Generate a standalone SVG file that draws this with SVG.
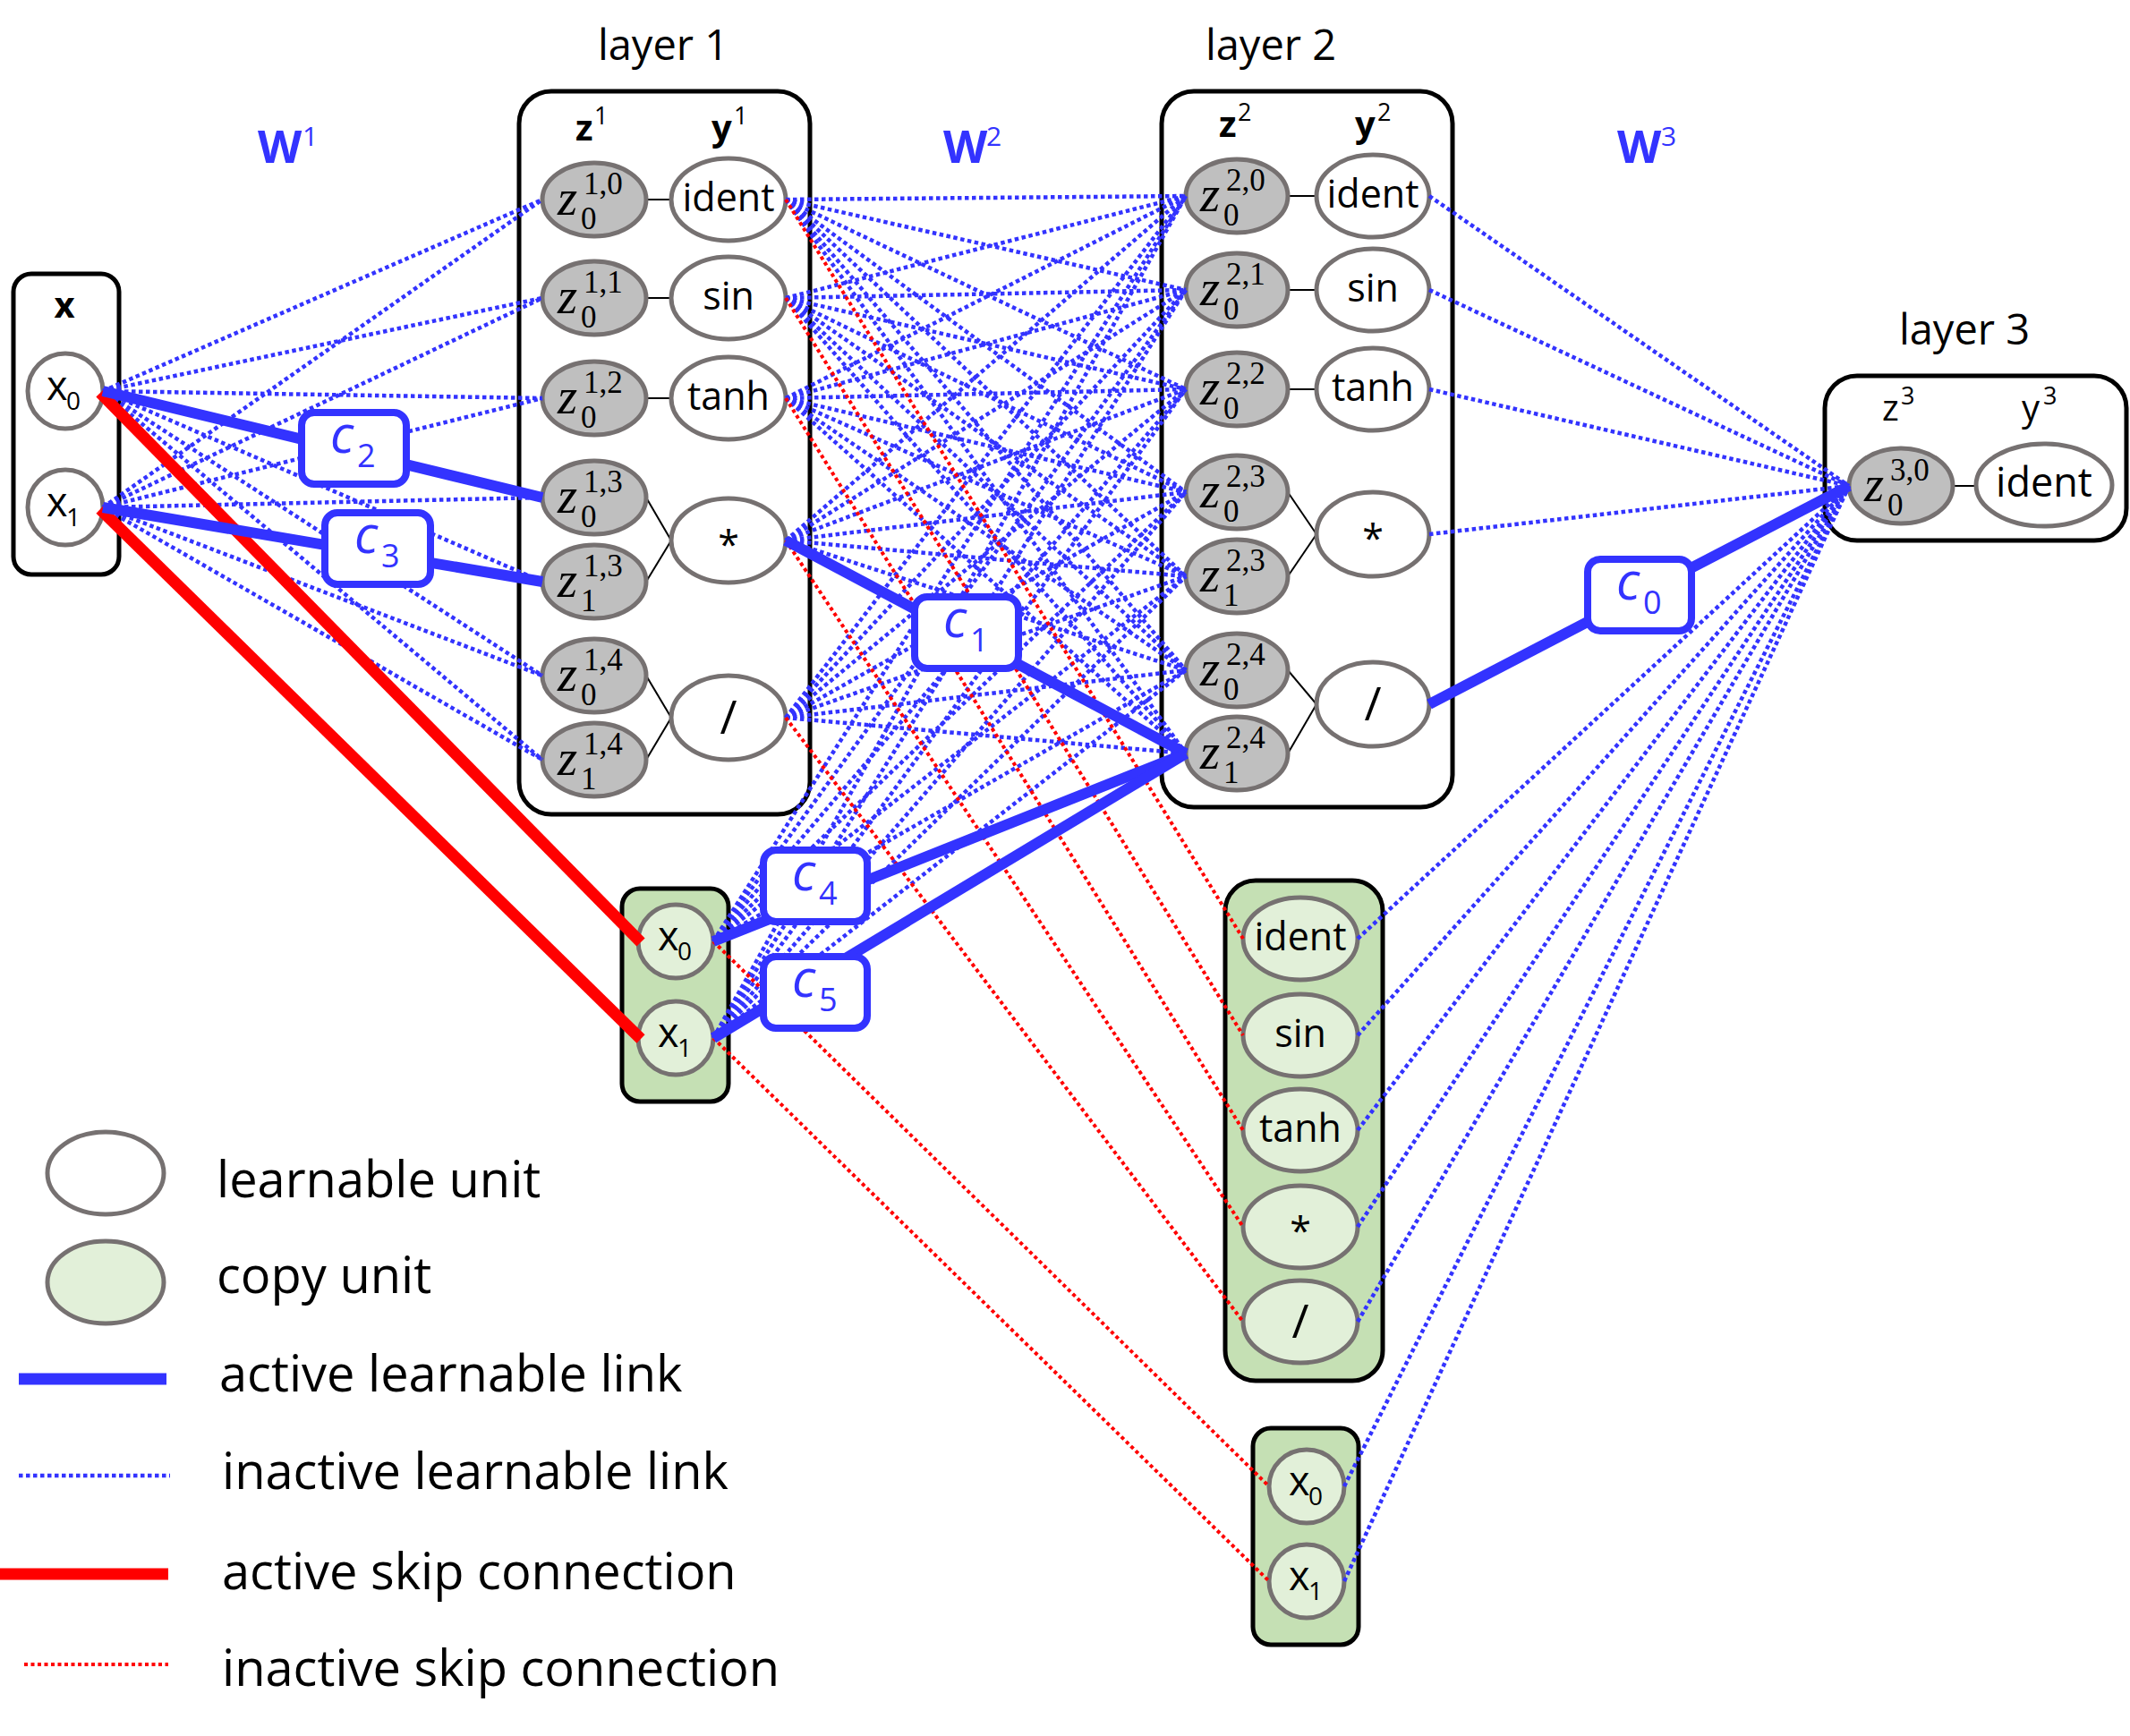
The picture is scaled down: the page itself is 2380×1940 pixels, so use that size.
<svg xmlns="http://www.w3.org/2000/svg" width="2380" height="1940" viewBox="0 0 2380 1940">
<style>
.bg{fill:#fff}
.box{fill:#fff;stroke:#000;stroke-width:5}
.gbox{fill:#c5e0b4;stroke:#000;stroke-width:5}
.ez{fill:#bfbfbf;stroke:#767171;stroke-width:5}
.ey{fill:#fff;stroke:#767171;stroke-width:5}
.ec{fill:#e2f0d9;stroke:#767171;stroke-width:5}
text{font-family:"Open Sans","Liberation Sans",sans-serif;fill:#000}
.fn{font-size:43px;text-anchor:middle}
.sl{font-size:52px;text-anchor:middle}
.ttl{font-size:47px;text-anchor:middle}
.zi{font-family:"Liberation Serif",serif;font-style:italic;font-size:57px}
.zs{font-family:"Liberation Serif",serif;font-size:35px}
.xl{font-size:45px}
.xs{font-size:28px}
.hb{font-size:40px;font-weight:bold}
.hr{font-size:40px}
.hs{font-size:27px}
.wl{font-size:51px;font-weight:bold;fill:#3333ff}
.ws{font-size:30px;fill:#3333ff}
.ci{font-size:58px;font-style:italic;fill:#3333ff}
.cs{font-size:36px;fill:#3333ff}
.lg{font-size:56px}
.il{stroke:#3333ff;stroke-width:4.5;stroke-dasharray:4.5 3.5;fill:none}
.is{stroke:#ff0000;stroke-width:4;stroke-dasharray:4 3.5;fill:none}
.al{stroke:#3333ff;stroke-width:12;fill:none}
.as{stroke:#ff0000;stroke-width:13;fill:none}
.wb{fill:#fff;stroke:#3333ff;stroke-width:8}
.thin{stroke:#000;stroke-width:2}
</style>
<rect class="bg" x="0" y="0" width="2380" height="1940"/>

<!-- containers -->
<g id="input-box">
<rect class="box" x="15" y="306" width="118" height="336" rx="20"/>
<text x="72" y="355" class="hb" text-anchor="middle">x</text>
</g>
<g id="layer1">
<text x="741" y="67" class="ttl">layer 1</text>
<rect class="box" x="580" y="102" width="325" height="808" rx="36"/>
<text x="643" y="157" class="hb">z</text><text x="664" y="139" class="hs">1</text>
<text x="795" y="157" class="hb">y</text><text x="820" y="139" class="hs">1</text>
<line class="thin" x1="722" y1="223" x2="750" y2="223"/>
<line class="thin" x1="722" y1="333" x2="750" y2="333"/>
<line class="thin" x1="722" y1="445" x2="750" y2="445"/>
<line class="thin" x1="722" y1="556" x2="750" y2="604"/>
<line class="thin" x1="722" y1="650" x2="750" y2="604"/>
<line class="thin" x1="722" y1="755" x2="750" y2="802"/>
<line class="thin" x1="722" y1="849" x2="750" y2="802"/>
</g>
<g id="layer2">
<text x="1420" y="67" class="ttl">layer 2</text>
<rect class="box" x="1298" y="102" width="325" height="800" rx="36"/>
<text x="1362" y="153" class="hb">z</text><text x="1383" y="135" class="hs">2</text>
<text x="1514" y="153" class="hb">y</text><text x="1539" y="135" class="hs">2</text>
<line class="thin" x1="1439" y1="219" x2="1471" y2="219"/>
<line class="thin" x1="1439" y1="324" x2="1471" y2="324"/>
<line class="thin" x1="1439" y1="435" x2="1471" y2="435"/>
<line class="thin" x1="1439" y1="550" x2="1471" y2="597"/>
<line class="thin" x1="1439" y1="644" x2="1471" y2="597"/>
<line class="thin" x1="1439" y1="749" x2="1471" y2="787"/>
<line class="thin" x1="1439" y1="842" x2="1471" y2="787"/>
</g>
<g id="layer3">
<text x="2195" y="385" class="ttl">layer 3</text>
<rect class="box" x="2039" y="420" width="337" height="184" rx="36"/>
<text x="2103" y="470" class="hr">z</text><text x="2124" y="452" class="hs">3</text>
<text x="2259" y="470" class="hr">y</text><text x="2283" y="452" class="hs">3</text>
<line class="thin" x1="2182" y1="543" x2="2208" y2="543"/>
</g>
<g id="copy-inputs-1"><rect class="gbox" x="695" y="993" width="119" height="238" rx="20"/></g>
<g id="copy-layer1"><rect class="gbox" x="1369" y="984" width="176" height="559" rx="34"/></g>
<g id="copy-inputs-2"><rect class="gbox" x="1400" y="1596" width="118" height="242" rx="20"/></g>

<!-- weight labels -->
<g id="W-labels">
<text x="288" y="182" class="wl">W</text><text x="338" y="163" class="ws">1</text>
<text x="1054" y="182" class="wl">W</text><text x="1102" y="163" class="ws">2</text>
<text x="1807" y="182" class="wl">W</text><text x="1856" y="163" class="ws">3</text>
</g>

<!-- nodes: input -->
<g id="x0"><ellipse class="ey" cx="73" cy="437" rx="42" ry="42"/><text x="52" y="447" class="xl">x</text><text x="74" y="458" class="xs">0</text></g>
<g id="x1"><ellipse class="ey" cx="73" cy="567" rx="42" ry="42"/><text x="52" y="577" class="xl">x</text><text x="74" y="588" class="xs">1</text></g>

<!-- layer 1 nodes -->
<g id="z1_0"><ellipse class="ez" cx="664" cy="223" rx="58" ry="41"/><text x="623" y="240" class="zi">z</text><text x="652" y="217" class="zs">1,0</text><text x="649" y="256" class="zs">0</text></g>
<g id="z1_1"><ellipse class="ez" cx="664" cy="333" rx="58" ry="41"/><text x="623" y="350" class="zi">z</text><text x="652" y="327" class="zs">1,1</text><text x="649" y="366" class="zs">0</text></g>
<g id="z1_2"><ellipse class="ez" cx="664" cy="445" rx="58" ry="41"/><text x="623" y="462" class="zi">z</text><text x="652" y="439" class="zs">1,2</text><text x="649" y="478" class="zs">0</text></g>
<g id="z1_3a"><ellipse class="ez" cx="664" cy="556" rx="58" ry="41"/><text x="623" y="573" class="zi">z</text><text x="652" y="550" class="zs">1,3</text><text x="649" y="589" class="zs">0</text></g>
<g id="z1_3b"><ellipse class="ez" cx="664" cy="650" rx="58" ry="41"/><text x="623" y="667" class="zi">z</text><text x="652" y="644" class="zs">1,3</text><text x="649" y="683" class="zs">1</text></g>
<g id="z1_4a"><ellipse class="ez" cx="664" cy="755" rx="58" ry="41"/><text x="623" y="772" class="zi">z</text><text x="652" y="749" class="zs">1,4</text><text x="649" y="788" class="zs">0</text></g>
<g id="z1_4b"><ellipse class="ez" cx="664" cy="849" rx="58" ry="41"/><text x="623" y="866" class="zi">z</text><text x="652" y="843" class="zs">1,4</text><text x="649" y="882" class="zs">1</text></g>
<g id="y1_ident"><ellipse class="ey" cx="814" cy="223" rx="64" ry="46"/><text x="814" y="236" class="fn">ident</text></g>
<g id="y1_sin"><ellipse class="ey" cx="814" cy="333" rx="64" ry="46"/><text x="814" y="346" class="fn">sin</text></g>
<g id="y1_tanh"><ellipse class="ey" cx="814" cy="445" rx="64" ry="46"/><text x="814" y="458" class="fn">tanh</text></g>
<g id="y1_mul"><ellipse class="ey" cx="814" cy="604" rx="64" ry="47"/><text x="814" y="624" class="fn">*</text></g>
<g id="y1_div"><ellipse class="ey" cx="814" cy="802" rx="64" ry="47"/><text x="814" y="820" class="sl">/</text></g>

<!-- layer 2 nodes -->
<g id="z2_0"><ellipse class="ez" cx="1382" cy="219" rx="57" ry="41"/><text x="1341" y="236" class="zi">z</text><text x="1370" y="213" class="zs">2,0</text><text x="1367" y="252" class="zs">0</text></g>
<g id="z2_1"><ellipse class="ez" cx="1382" cy="324" rx="57" ry="41"/><text x="1341" y="341" class="zi">z</text><text x="1370" y="318" class="zs">2,1</text><text x="1367" y="357" class="zs">0</text></g>
<g id="z2_2"><ellipse class="ez" cx="1382" cy="435" rx="57" ry="41"/><text x="1341" y="452" class="zi">z</text><text x="1370" y="429" class="zs">2,2</text><text x="1367" y="468" class="zs">0</text></g>
<g id="z2_3a"><ellipse class="ez" cx="1382" cy="550" rx="57" ry="41"/><text x="1341" y="567" class="zi">z</text><text x="1370" y="544" class="zs">2,3</text><text x="1367" y="583" class="zs">0</text></g>
<g id="z2_3b"><ellipse class="ez" cx="1382" cy="644" rx="57" ry="41"/><text x="1341" y="661" class="zi">z</text><text x="1370" y="638" class="zs">2,3</text><text x="1367" y="677" class="zs">1</text></g>
<g id="z2_4a"><ellipse class="ez" cx="1382" cy="749" rx="57" ry="41"/><text x="1341" y="766" class="zi">z</text><text x="1370" y="743" class="zs">2,4</text><text x="1367" y="782" class="zs">0</text></g>
<g id="z2_4b"><ellipse class="ez" cx="1382" cy="842" rx="57" ry="41"/><text x="1341" y="859" class="zi">z</text><text x="1370" y="836" class="zs">2,4</text><text x="1367" y="875" class="zs">1</text></g>
<g id="y2_ident"><ellipse class="ey" cx="1534" cy="219" rx="63" ry="46"/><text x="1534" y="232" class="fn">ident</text></g>
<g id="y2_sin"><ellipse class="ey" cx="1534" cy="324" rx="63" ry="46"/><text x="1534" y="337" class="fn">sin</text></g>
<g id="y2_tanh"><ellipse class="ey" cx="1534" cy="435" rx="63" ry="46"/><text x="1534" y="448" class="fn">tanh</text></g>
<g id="y2_mul"><ellipse class="ey" cx="1534" cy="597" rx="63" ry="47"/><text x="1534" y="617" class="fn">*</text></g>
<g id="y2_div"><ellipse class="ey" cx="1534" cy="787" rx="63" ry="47"/><text x="1534" y="805" class="sl">/</text></g>

<!-- layer 3 nodes -->
<g id="z3_0"><ellipse class="ez" cx="2124" cy="543" rx="58" ry="42"/><text x="2083" y="560" class="zi">z</text><text x="2112" y="537" class="zs">3,0</text><text x="2109" y="576" class="zs">0</text></g>
<g id="y3_ident"><ellipse class="ey" cx="2284" cy="542" rx="76" ry="46"/><text x="2284" y="555" class="fn" style="font-size:45px">ident</text></g>

<!-- copy nodes -->
<g id="c1_x0"><ellipse class="ec" cx="755" cy="1052" rx="42" ry="41"/><text x="735" y="1062" class="xl">x</text><text x="757" y="1073" class="xs">0</text></g>
<g id="c1_x1"><ellipse class="ec" cx="755" cy="1160" rx="42" ry="41"/><text x="735" y="1170" class="xl">x</text><text x="757" y="1181" class="xs">1</text></g>
<g id="c2_ident"><ellipse class="ec" cx="1453" cy="1049" rx="64" ry="46"/><text x="1453" y="1062" class="fn">ident</text></g>
<g id="c2_sin"><ellipse class="ec" cx="1453" cy="1157" rx="64" ry="46"/><text x="1453" y="1170" class="fn">sin</text></g>
<g id="c2_tanh"><ellipse class="ec" cx="1453" cy="1263" rx="64" ry="46"/><text x="1453" y="1276" class="fn">tanh</text></g>
<g id="c2_mul"><ellipse class="ec" cx="1453" cy="1371" rx="64" ry="46"/><text x="1453" y="1391" class="fn">*</text></g>
<g id="c2_div"><ellipse class="ec" cx="1453" cy="1477" rx="64" ry="46"/><text x="1453" y="1495" class="sl">/</text></g>
<g id="c3_x0"><ellipse class="ec" cx="1460" cy="1661" rx="42" ry="41"/><text x="1440" y="1671" class="xl">x</text><text x="1462" y="1682" class="xs">0</text></g>
<g id="c3_x1"><ellipse class="ec" cx="1460" cy="1767" rx="42" ry="41"/><text x="1440" y="1777" class="xl">x</text><text x="1462" y="1788" class="xs">1</text></g>

<!-- connectors -->
<g id="connectors">
<g id="W1-inactive">
<line class="il" x1="115" y1="437" x2="606" y2="223"/>
<line class="il" x1="115" y1="437" x2="606" y2="333"/>
<line class="il" x1="115" y1="437" x2="606" y2="445"/>
<line class="il" x1="115" y1="437" x2="606" y2="556"/>
<line class="il" x1="115" y1="437" x2="606" y2="650"/>
<line class="il" x1="115" y1="437" x2="606" y2="755"/>
<line class="il" x1="115" y1="437" x2="606" y2="849"/>
<line class="il" x1="115" y1="567" x2="606" y2="223"/>
<line class="il" x1="115" y1="567" x2="606" y2="333"/>
<line class="il" x1="115" y1="567" x2="606" y2="445"/>
<line class="il" x1="115" y1="567" x2="606" y2="556"/>
<line class="il" x1="115" y1="567" x2="606" y2="650"/>
<line class="il" x1="115" y1="567" x2="606" y2="755"/>
<line class="il" x1="115" y1="567" x2="606" y2="849"/>
</g>
<g id="W2-inactive">
<line class="il" x1="878" y1="223" x2="1325" y2="219"/>
<line class="il" x1="878" y1="223" x2="1325" y2="324"/>
<line class="il" x1="878" y1="223" x2="1325" y2="435"/>
<line class="il" x1="878" y1="223" x2="1325" y2="550"/>
<line class="il" x1="878" y1="223" x2="1325" y2="644"/>
<line class="il" x1="878" y1="223" x2="1325" y2="749"/>
<line class="il" x1="878" y1="223" x2="1325" y2="842"/>
<line class="il" x1="878" y1="333" x2="1325" y2="219"/>
<line class="il" x1="878" y1="333" x2="1325" y2="324"/>
<line class="il" x1="878" y1="333" x2="1325" y2="435"/>
<line class="il" x1="878" y1="333" x2="1325" y2="550"/>
<line class="il" x1="878" y1="333" x2="1325" y2="644"/>
<line class="il" x1="878" y1="333" x2="1325" y2="749"/>
<line class="il" x1="878" y1="333" x2="1325" y2="842"/>
<line class="il" x1="878" y1="445" x2="1325" y2="219"/>
<line class="il" x1="878" y1="445" x2="1325" y2="324"/>
<line class="il" x1="878" y1="445" x2="1325" y2="435"/>
<line class="il" x1="878" y1="445" x2="1325" y2="550"/>
<line class="il" x1="878" y1="445" x2="1325" y2="644"/>
<line class="il" x1="878" y1="445" x2="1325" y2="749"/>
<line class="il" x1="878" y1="445" x2="1325" y2="842"/>
<line class="il" x1="878" y1="604" x2="1325" y2="219"/>
<line class="il" x1="878" y1="604" x2="1325" y2="324"/>
<line class="il" x1="878" y1="604" x2="1325" y2="435"/>
<line class="il" x1="878" y1="604" x2="1325" y2="550"/>
<line class="il" x1="878" y1="604" x2="1325" y2="644"/>
<line class="il" x1="878" y1="604" x2="1325" y2="749"/>
<line class="il" x1="878" y1="604" x2="1325" y2="842"/>
<line class="il" x1="878" y1="802" x2="1325" y2="219"/>
<line class="il" x1="878" y1="802" x2="1325" y2="324"/>
<line class="il" x1="878" y1="802" x2="1325" y2="435"/>
<line class="il" x1="878" y1="802" x2="1325" y2="550"/>
<line class="il" x1="878" y1="802" x2="1325" y2="644"/>
<line class="il" x1="878" y1="802" x2="1325" y2="749"/>
<line class="il" x1="878" y1="802" x2="1325" y2="842"/>
<line class="il" x1="797" y1="1052" x2="1325" y2="219"/>
<line class="il" x1="797" y1="1052" x2="1325" y2="324"/>
<line class="il" x1="797" y1="1052" x2="1325" y2="435"/>
<line class="il" x1="797" y1="1052" x2="1325" y2="550"/>
<line class="il" x1="797" y1="1052" x2="1325" y2="644"/>
<line class="il" x1="797" y1="1052" x2="1325" y2="749"/>
<line class="il" x1="797" y1="1052" x2="1325" y2="842"/>
<line class="il" x1="797" y1="1160" x2="1325" y2="219"/>
<line class="il" x1="797" y1="1160" x2="1325" y2="324"/>
<line class="il" x1="797" y1="1160" x2="1325" y2="435"/>
<line class="il" x1="797" y1="1160" x2="1325" y2="550"/>
<line class="il" x1="797" y1="1160" x2="1325" y2="644"/>
<line class="il" x1="797" y1="1160" x2="1325" y2="749"/>
<line class="il" x1="797" y1="1160" x2="1325" y2="842"/>
</g>
<g id="W3-inactive">
<line class="il" x1="1597" y1="219" x2="2066" y2="543"/>
<line class="il" x1="1597" y1="324" x2="2066" y2="543"/>
<line class="il" x1="1597" y1="435" x2="2066" y2="543"/>
<line class="il" x1="1597" y1="597" x2="2066" y2="543"/>
<line class="il" x1="1597" y1="787" x2="2066" y2="543"/>
<line class="il" x1="1517" y1="1049" x2="2066" y2="543"/>
<line class="il" x1="1517" y1="1157" x2="2066" y2="543"/>
<line class="il" x1="1517" y1="1263" x2="2066" y2="543"/>
<line class="il" x1="1517" y1="1371" x2="2066" y2="543"/>
<line class="il" x1="1517" y1="1477" x2="2066" y2="543"/>
<line class="il" x1="1502" y1="1661" x2="2066" y2="543"/>
<line class="il" x1="1502" y1="1767" x2="2066" y2="543"/>
</g>
<g id="skip-inactive">
<line class="is" x1="878" y1="223" x2="1389" y2="1049"/>
<line class="is" x1="878" y1="333" x2="1389" y2="1157"/>
<line class="is" x1="878" y1="445" x2="1389" y2="1263"/>
<line class="is" x1="878" y1="604" x2="1389" y2="1371"/>
<line class="is" x1="878" y1="802" x2="1389" y2="1477"/>
<line class="is" x1="797" y1="1052" x2="1418" y2="1661"/>
<line class="is" x1="797" y1="1160" x2="1418" y2="1767"/>
</g>
<g id="active">
<line class="as" x1="112" y1="439" x2="716" y2="1053"/>
<line class="as" x1="112" y1="569" x2="716" y2="1161"/>
<line class="al" x1="115" y1="437" x2="606" y2="556"/>
<line class="al" x1="115" y1="567" x2="606" y2="650"/>
<line class="al" x1="878" y1="604" x2="1325" y2="842"/>
<line class="al" x1="797" y1="1052" x2="1325" y2="842"/>
<line class="al" x1="797" y1="1160" x2="1325" y2="842"/>
<line class="al" x1="1597" y1="787" x2="2066" y2="543"/>
</g>
</g>

<!-- weight boxes on active links -->
<g id="c0"><rect class="wb" x="1774" y="625" width="116" height="80" rx="14"/><text x="1806" y="670" class="ci">c</text><text x="1836" y="686" class="cs">0</text></g>
<g id="c1"><rect class="wb" x="1022" y="667" width="116" height="80" rx="14"/><text x="1054" y="712" class="ci">c</text><text x="1084" y="728" class="cs">1</text></g>
<g id="c2"><rect class="wb" x="337" y="461" width="117" height="80" rx="14"/><text x="369" y="506" class="ci">c</text><text x="399" y="522" class="cs">2</text></g>
<g id="c3"><rect class="wb" x="363" y="573" width="118" height="80" rx="14"/><text x="396" y="618" class="ci">c</text><text x="426" y="634" class="cs">3</text></g>
<g id="c4"><rect class="wb" x="853" y="950" width="116" height="80" rx="14"/><text x="885" y="995" class="ci">c</text><text x="915" y="1011" class="cs">4</text></g>
<g id="c5"><rect class="wb" x="853" y="1069" width="116" height="80" rx="14"/><text x="885" y="1114" class="ci">c</text><text x="915" y="1130" class="cs">5</text></g>

<!-- legend -->
<g id="legend">
<ellipse class="ey" cx="118" cy="1311" rx="65" ry="46"/>
<text x="242" y="1338" class="lg">learnable unit</text>
<ellipse class="ec" cx="118" cy="1433" rx="65" ry="46"/>
<text x="242" y="1445" class="lg">copy unit</text>
<line x1="21" y1="1541" x2="186" y2="1541" style="stroke:#3333ff;stroke-width:13"/>
<text x="245" y="1555" class="lg">active learnable link</text>
<line class="il" x1="21" y1="1649" x2="190" y2="1649"/>
<text x="248" y="1664" class="lg">inactive learnable link</text>
<line x1="0" y1="1759" x2="188" y2="1759" style="stroke:#ff0000;stroke-width:13"/>
<text x="248" y="1776" class="lg">active skip connection</text>
<line class="is" x1="27" y1="1860" x2="188" y2="1860"/>
<text x="248" y="1884" class="lg">inactive skip connection</text>
</g>
</svg>
